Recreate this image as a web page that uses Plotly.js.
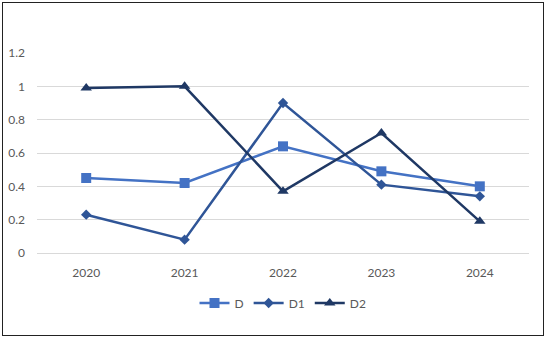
<!DOCTYPE html>
<html>
<head>
<meta charset="utf-8">
<script src="https://cdn.plot.ly/plotly-3.0.1.min.js"></script>
<style>
html,body{margin:0;padding:0;background:#fff;}
#wrap{position:absolute;left:2px;top:2px;width:542px;height:334px;border:1.5px solid #222;box-sizing:border-box;}
#chart{position:absolute;left:0;top:0;width:550px;height:341px;}
</style>
</head>
<body>
<div id="wrap"></div>
<div id="chart"></div>
<script>
const years = ['2020','2021','2022','2023','2024'];
const seriesD  = [0.45, 0.42, 0.64, 0.49, 0.40];
const seriesD1 = [0.23, 0.08, 0.90, 0.41, 0.34];
const seriesD2 = [0.99, 1.00, 0.37, 0.72, 0.19];
const yTicks = [0, 0.2, 0.4, 0.6, 0.8, 1, 1.2];
const yTickText = ['0','0.2','0.4','0.6','0.8','1','1.2'];

const traces = [
  {x: years, y: seriesD, name: 'D', type: 'scatter', mode: 'lines+markers',
   line: {color: '#4472C4', width: 2.5}, marker: {symbol: 'square', size: 10, color: '#4472C4'}},
  {x: years, y: seriesD1, name: 'D1', type: 'scatter', mode: 'lines+markers',
   line: {color: '#2F5597', width: 2.5}, marker: {symbol: 'diamond', size: 8, color: '#2F5597'}},
  {x: years, y: seriesD2, name: 'D2', type: 'scatter', mode: 'lines+markers',
   line: {color: '#1F3864', width: 2.5}, marker: {symbol: 'triangle-up', size: 10, color: '#1F3864'}}
];

const layout = {
  width: 550, height: 341,
  margin: {l: 36.5, r: 21, t: 53, b: 88},
  paper_bgcolor: 'rgba(0,0,0,0)', plot_bgcolor: 'rgba(0,0,0,0)',
  font: {family: 'Lato, "Open Sans", sans-serif', size: 12, color: '#595959'},
  xaxis: {type: 'category', range: [-0.5, 4.5], showgrid: false, showline: true, linecolor: '#d9d9d9', linewidth: 1,
          ticks: '', zeroline: false, fixedrange: true, ticklabelstandoff: 9},
  yaxis: {range: [0, 1.2], tickvals: yTicks, ticktext: yTickText, showgrid: true, gridcolor: '#d9d9d9',
          gridwidth: 1, zeroline: false, showline: false, ticks: '', ticklen: 0, automargin: false,
          ticklabelstandoff: 11},
  legend: {orientation: 'h', x: 0.5, xanchor: 'center', y: -0.25, yanchor: 'middle',
           font: {size: 12, color: '#595959'}, itemwidth: 30},
  showlegend: true
};

Plotly.newPlot('chart', traces, layout, {displayModeBar: false, staticPlot: true});
</script>
</body>
</html>
